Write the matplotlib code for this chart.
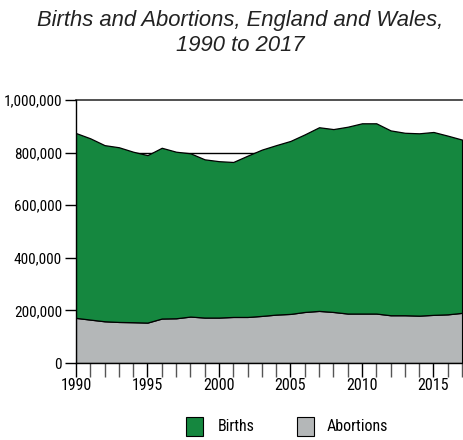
import matplotlib.pyplot as plt
from matplotlib.patches import Rectangle
from matplotlib.ticker import FuncFormatter

plt.rcParams['font.family'] = ['Roboto Condensed', 'Liberation Sans', 'DejaVu Sans']

years = list(range(1990, 2018))

# stacked: abortions at the bottom, births on top
abortions = [171500, 165000, 158600, 156000, 155000, 153600, 169000, 170000, 176500, 172700,
             172700, 175000, 175000, 179000, 184000, 186600, 194000, 198000, 194000, 188000,
             188000, 188000, 181500, 181500, 180000, 183000, 185000, 190600]
births = [702500, 689000, 669400, 664000, 648000, 636400, 649000, 633000, 620500, 601300,
          594300, 589000, 613000, 632000, 644000, 657400, 675000, 698000, 695000, 710000,
          723000, 723000, 702500, 693500, 693000, 695000, 679000, 658400]
series = ['Births', 'Abortions']

green = '#15873f'
grey = '#b4b7b8'

fig = plt.figure(figsize=(4.63, 4.4), dpi=100)
ax = fig.add_axes([0.164, 0.175, 0.834, 0.598])

ax.axhline(800000, color='black', lw=1, zorder=0)
ax.axhline(1000000, color='#333333', lw=1.2, zorder=0, clip_on=False)

ax.stackplot(years, abortions, births, colors=[grey, green],
             edgecolor='black', linewidth=0.9, zorder=2)

ax.set_xlim(1990, 2017)
ax.set_ylim(0, 1000000)
ax.set_yticks(range(0, 1000001, 200000))
ax.yaxis.set_major_formatter(FuncFormatter(lambda v, p: f'{int(v):,}'))
ax.set_xticks(years, minor=True)
ax.set_xticks([1990, 1995, 2000, 2005, 2010, 2015])

ax.tick_params(axis='y', length=8, width=1, labelsize=11, pad=2)
ax.tick_params(axis='x', which='both', length=10, width=1, labelsize=11.5, pad=1)
ax.tick_params(axis='x', which='minor', colors='#555555')

for side in ['top', 'right']:
    ax.spines[side].set_visible(False)
ax.spines['left'].set_linewidth(1)
ax.spines['bottom'].set_linewidth(1)

fig.text(0.518, 0.978, 'Births and Abortions, England and Wales,\n1990 to 2017',
         ha='center', va='top', fontsize=15.8, style='italic', color='#222222',
         family=['Liberation Sans', 'DejaVu Sans'], linespacing=1.28)

# legend keys along the bottom
for colour, label, x_box, x_txt in [(green, series[0], 0.4017, 0.4708),
                                     (grey, series[1], 0.6415, 0.7063)]:
    fig.add_artist(Rectangle((x_box, 0.0091), 0.0367, 0.0432, transform=fig.transFigure,
                             facecolor=colour, edgecolor='black', lw=0.8))
    fig.text(x_txt, 0.0318, label, ha='left', va='center', fontsize=11.5)

fig.savefig('out.png', dpi=100)
